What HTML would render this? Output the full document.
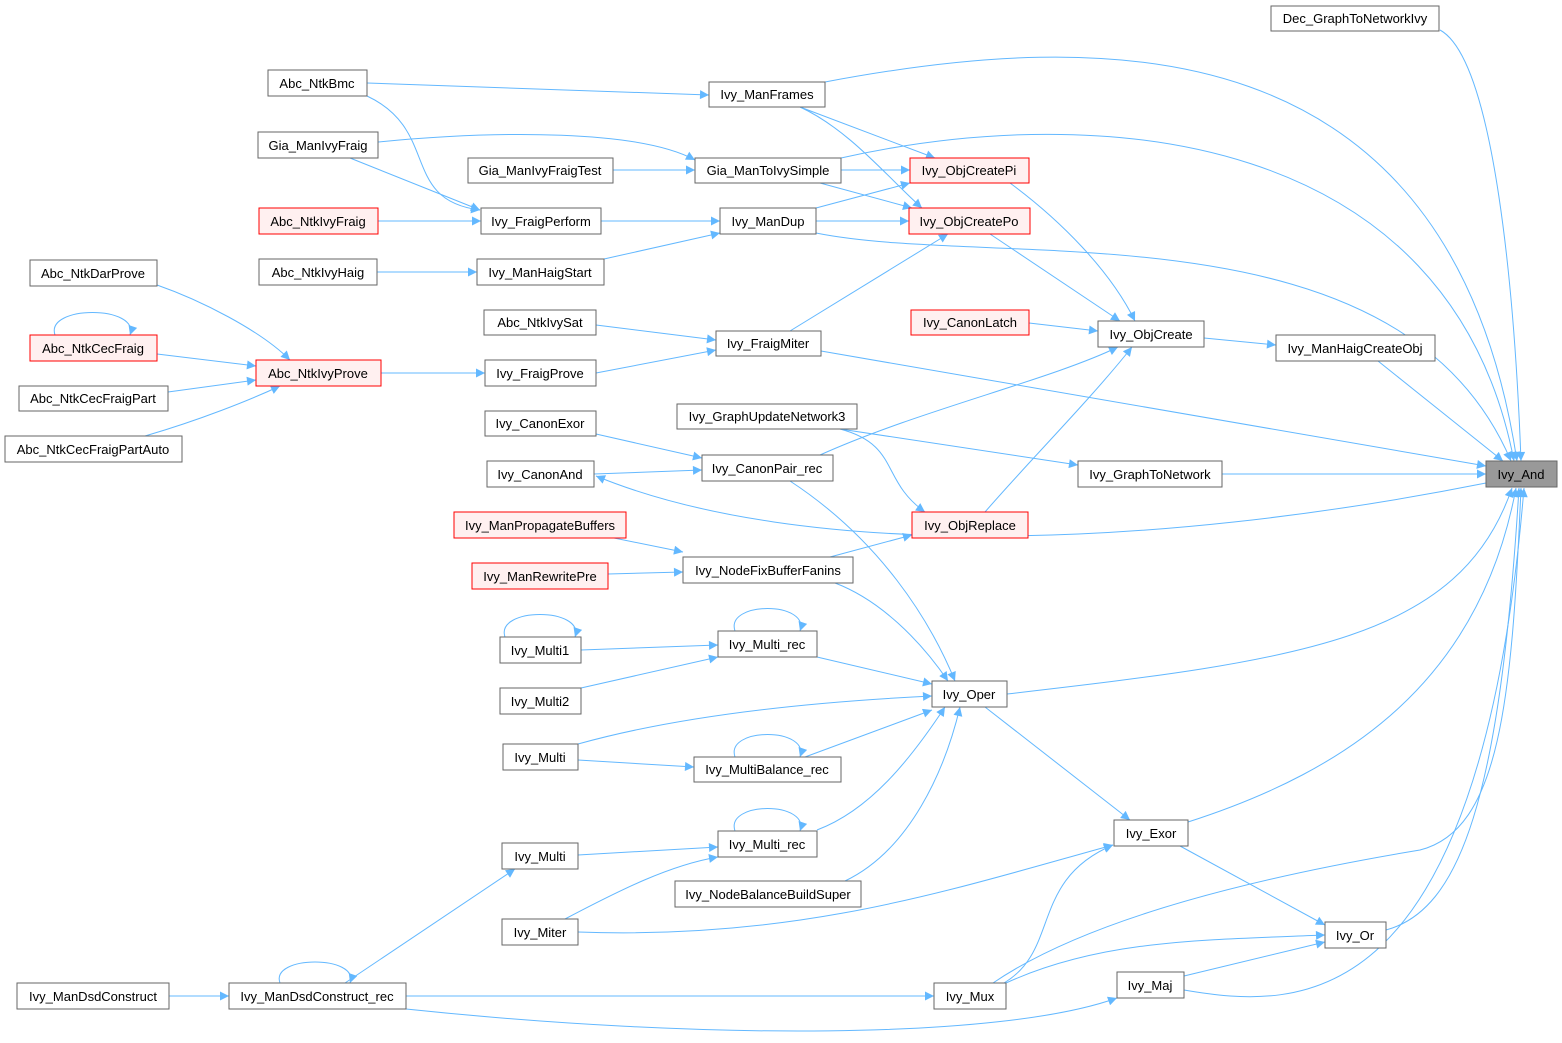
<!DOCTYPE html>
<html><head><meta charset="utf-8"><style>
html,body{margin:0;padding:0;background:#fff;}
svg{display:block;}
text{font-family:"Liberation Sans",Arial,sans-serif;font-size:13px;fill:#000;text-anchor:middle;}
.n{fill:#fff;stroke:#666;stroke-width:1;}
.r{fill:#fff0f0;stroke:#ff0000;stroke-width:1;}
.g{fill:#999;stroke:#666;stroke-width:1;}
.e{fill:none;stroke:#63b8ff;stroke-width:1;marker-end:url(#a);}
</style></head><body>
<svg width="1562" height="1043" viewBox="0 0 1562 1043" xmlns="http://www.w3.org/2000/svg">
<defs><marker id="a" viewBox="0 0 10 10" refX="10" refY="5" markerWidth="12" markerHeight="9" markerUnits="userSpaceOnUse" orient="auto"><path d="M0,0 L10,5 L0,10 z" fill="#63b8ff"/></marker></defs>
<g>
<path class="e" d="M1440,30 C1495,60 1515,300 1521,461"/>
<path class="e" d="M825,82 C1100,30 1450,20 1517,461"/>
<path class="e" d="M841,158 C1100,100 1450,130 1514,461"/>
<path class="e" d="M816,233 C1000,270 1400,200 1511,461"/>
<path class="e" d="M1378,361 L1503,461"/>
<path class="e" d="M821,351 L1486,466"/>
<path class="e" d="M1222,474 L1486,474"/>
<path class="e" d="M1486,483 C1150,550 800,560 596,476"/>
<path class="e" d="M1007,694 C1300,660 1460,640 1512,488"/>
<path class="e" d="M1188,822 C1350,770 1480,680 1516,488"/>
<path class="e" d="M1386,930 C1460,910 1500,800 1519,488"/>
<path class="e" d="M993,983 C1100,910 1300,870 1420,850 C1500,830 1512,700 1521,488"/>
<path class="e" d="M1184,990 C1300,1010 1480,1020 1524,488"/>
<path class="e" d="M367,83 L709,95"/>
<path class="e" d="M367,96 C440,130 400,200 480,210"/>
<path class="e" d="M378,142 C500,130 640,130 695,160"/>
<path class="e" d="M350,158 L480,210"/>
<path class="e" d="M613,170 L695,170"/>
<path class="e" d="M378,221 L481,221"/>
<path class="e" d="M601,221 L720,221"/>
<path class="e" d="M377,272 L477,272"/>
<path class="e" d="M604,259 L720,233"/>
<path class="e" d="M800,107 L935,158"/>
<path class="e" d="M800,107 C850,130 890,180 922,208"/>
<path class="e" d="M841,170 L910,170"/>
<path class="e" d="M820,183 L912,208"/>
<path class="e" d="M816,208 L910,183"/>
<path class="e" d="M816,221 L909,221"/>
<path class="e" d="M790,331 L948,234"/>
<path class="e" d="M1010,183 C1060,220 1110,270 1135,321"/>
<path class="e" d="M990,234 L1120,321"/>
<path class="e" d="M1029,323 L1098,331"/>
<path class="e" d="M1204,338 L1276,345"/>
<path class="e" d="M820,455 C920,410 1050,380 1118,347"/>
<path class="e" d="M985,512 C1030,460 1090,400 1132,347"/>
<path class="e" d="M596,325 L716,340"/>
<path class="e" d="M596,373 L716,350"/>
<path class="e" d="M381,373 L485,373"/>
<path class="e" d="M157,285 C200,300 260,330 290,360"/>
<path class="e" d="M157,354 L256,366"/>
<path class="e" d="M168,392 L256,380"/>
<path class="e" d="M145,436 C200,420 250,400 280,386"/>
<path class="e" d="M840,429 L1078,465"/>
<path class="e" d="M840,429 C900,445 880,480 925,512"/>
<path class="e" d="M596,434 L702,458"/>
<path class="e" d="M594,474 L702,470"/>
<path class="e" d="M790,481 C880,540 930,620 955,681"/>
<path class="e" d="M614,538 L683,552"/>
<path class="e" d="M608,574 L683,572"/>
<path class="e" d="M830,557 L912,535"/>
<path class="e" d="M835,583 C880,600 920,640 948,681"/>
<path class="e" d="M581,650 L718,645"/>
<path class="e" d="M581,688 L718,657"/>
<path class="e" d="M817,657 L932,684"/>
<path class="e" d="M578,744 C700,710 850,700 932,696"/>
<path class="e" d="M578,760 L694,767"/>
<path class="e" d="M805,757 L932,710"/>
<path class="e" d="M817,830 C870,810 910,760 945,707"/>
<path class="e" d="M845,881 C910,850 945,770 960,707"/>
<path class="e" d="M985,707 L1130,820"/>
<path class="e" d="M578,855 L718,847"/>
<path class="e" d="M565,919 C620,890 670,865 718,857"/>
<path class="e" d="M578,932 C800,940 950,890 1113,845"/>
<path class="e" d="M1180,846 L1325,925"/>
<path class="e" d="M1006,983 C1100,940 1200,940 1325,935"/>
<path class="e" d="M1004,983 C1060,950 1030,880 1113,845"/>
<path class="e" d="M1184,976 L1325,942"/>
<path class="e" d="M406,996 L934,996"/>
<path class="e" d="M406,1009 C700,1040 1000,1040 1117,998"/>
<path class="e" d="M345,983 L515,869"/>
<path class="e" d="M169,996 L229,996"/>
<path class="e" d="M280,983 C270,955 360,955 350,983"/>
<path class="e" d="M55,335 C45,305 140,305 130,335"/>
<path class="e" d="M505,637 C495,607 585,607 575,637"/>
<path class="e" d="M735,631 C725,601 810,601 800,631"/>
<path class="e" d="M735,757 C725,727 810,727 800,757"/>
<path class="e" d="M735,831 C725,801 810,801 800,831"/>
</g>
<g>
<rect class="n" x="1271" y="6" width="168" height="25"/><text x="1355" y="23">Dec_GraphToNetworkIvy</text>
<rect class="n" x="268" y="70" width="99" height="26"/><text x="317" y="88">Abc_NtkBmc</text>
<rect class="n" x="709" y="82" width="116" height="25"/><text x="767" y="99">Ivy_ManFrames</text>
<rect class="n" x="258" y="132" width="120" height="26"/><text x="318" y="150">Gia_ManIvyFraig</text>
<rect class="n" x="468" y="158" width="145" height="25"/><text x="540" y="175">Gia_ManIvyFraigTest</text>
<rect class="n" x="695" y="158" width="146" height="25"/><text x="768" y="175">Gia_ManToIvySimple</text>
<rect class="r" x="910" y="158" width="119" height="25"/><text x="969" y="175">Ivy_ObjCreatePi</text>
<rect class="r" x="259" y="208" width="119" height="26"/><text x="318" y="226">Abc_NtkIvyFraig</text>
<rect class="n" x="481" y="208" width="120" height="26"/><text x="541" y="226">Ivy_FraigPerform</text>
<rect class="n" x="720" y="208" width="96" height="26"/><text x="768" y="226">Ivy_ManDup</text>
<rect class="r" x="909" y="208" width="121" height="26"/><text x="969" y="226">Ivy_ObjCreatePo</text>
<rect class="n" x="30" y="260" width="127" height="26"/><text x="93" y="278">Abc_NtkDarProve</text>
<rect class="n" x="259" y="259" width="118" height="26"/><text x="318" y="277">Abc_NtkIvyHaig</text>
<rect class="n" x="477" y="259" width="127" height="26"/><text x="540" y="277">Ivy_ManHaigStart</text>
<rect class="n" x="484" y="310" width="112" height="25"/><text x="540" y="327">Abc_NtkIvySat</text>
<rect class="r" x="911" y="310" width="118" height="25"/><text x="970" y="327">Ivy_CanonLatch</text>
<rect class="n" x="1098" y="321" width="106" height="26"/><text x="1151" y="339">Ivy_ObjCreate</text>
<rect class="n" x="1276" y="335" width="159" height="26"/><text x="1355" y="353">Ivy_ManHaigCreateObj</text>
<rect class="n" x="716" y="331" width="105" height="25"/><text x="768" y="348">Ivy_FraigMiter</text>
<rect class="r" x="30" y="335" width="127" height="26"/><text x="93" y="353">Abc_NtkCecFraig</text>
<rect class="r" x="256" y="360" width="125" height="26"/><text x="318" y="378">Abc_NtkIvyProve</text>
<rect class="n" x="485" y="360" width="111" height="26"/><text x="540" y="378">Ivy_FraigProve</text>
<rect class="n" x="19" y="386" width="149" height="25"/><text x="93" y="403">Abc_NtkCecFraigPart</text>
<rect class="n" x="677" y="404" width="180" height="25"/><text x="767" y="421">Ivy_GraphUpdateNetwork3</text>
<rect class="n" x="485" y="411" width="111" height="25"/><text x="540" y="428">Ivy_CanonExor</text>
<rect class="n" x="5" y="436" width="177" height="26"/><text x="93" y="454">Abc_NtkCecFraigPartAuto</text>
<rect class="n" x="487" y="461" width="107" height="26"/><text x="540" y="479">Ivy_CanonAnd</text>
<rect class="n" x="702" y="455" width="131" height="26"/><text x="767" y="473">Ivy_CanonPair_rec</text>
<rect class="n" x="1078" y="461" width="144" height="26"/><text x="1150" y="479">Ivy_GraphToNetwork</text>
<rect class="g" x="1486" y="461" width="71" height="26"/><text x="1521" y="479">Ivy_And</text>
<rect class="r" x="912" y="512" width="116" height="26"/><text x="970" y="530">Ivy_ObjReplace</text>
<rect class="r" x="454" y="512" width="172" height="26"/><text x="540" y="530">Ivy_ManPropagateBuffers</text>
<rect class="n" x="683" y="557" width="170" height="26"/><text x="768" y="575">Ivy_NodeFixBufferFanins</text>
<rect class="r" x="472" y="563" width="136" height="26"/><text x="540" y="581">Ivy_ManRewritePre</text>
<rect class="n" x="718" y="631" width="99" height="26"/><text x="767" y="649">Ivy_Multi_rec</text>
<rect class="n" x="500" y="637" width="81" height="26"/><text x="540" y="655">Ivy_Multi1</text>
<rect class="n" x="932" y="681" width="75" height="26"/><text x="969" y="699">Ivy_Oper</text>
<rect class="n" x="500" y="688" width="81" height="26"/><text x="540" y="706">Ivy_Multi2</text>
<rect class="n" x="503" y="744" width="75" height="26"/><text x="540" y="762">Ivy_Multi</text>
<rect class="n" x="694" y="757" width="147" height="25"/><text x="767" y="774">Ivy_MultiBalance_rec</text>
<rect class="n" x="1114" y="820" width="74" height="26"/><text x="1151" y="838">Ivy_Exor</text>
<rect class="n" x="718" y="831" width="99" height="26"/><text x="767" y="849">Ivy_Multi_rec</text>
<rect class="n" x="502" y="843" width="76" height="26"/><text x="540" y="861">Ivy_Multi</text>
<rect class="n" x="675" y="881" width="186" height="26"/><text x="768" y="899">Ivy_NodeBalanceBuildSuper</text>
<rect class="n" x="502" y="919" width="76" height="26"/><text x="540" y="937">Ivy_Miter</text>
<rect class="n" x="1325" y="922" width="61" height="26"/><text x="1355" y="940">Ivy_Or</text>
<rect class="n" x="1117" y="972" width="67" height="26"/><text x="1150" y="990">Ivy_Maj</text>
<rect class="n" x="17" y="983" width="152" height="26"/><text x="93" y="1001">Ivy_ManDsdConstruct</text>
<rect class="n" x="229" y="983" width="177" height="26"/><text x="317" y="1001">Ivy_ManDsdConstruct_rec</text>
<rect class="n" x="934" y="983" width="72" height="26"/><text x="970" y="1001">Ivy_Mux</text>
</g>
</svg>
</body></html>
